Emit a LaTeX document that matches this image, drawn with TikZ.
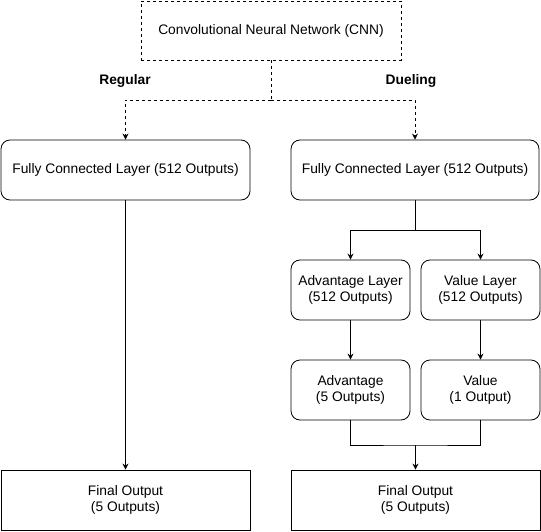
\documentclass[tikz,border=0pt]{standalone}
\usepackage{fontspec}
\setmainfont{Liberation Sans}
\usetikzlibrary{arrows.meta}
\tikzset{
  box/.style={draw, line width=0.8pt, inner sep=0pt, align=center, font=\fontsize{13.8}{16.5}\selectfont},
  rbox/.style={box, rounded corners=9pt},
  lbl/.style={font=\fontsize{13.8}{16.5}\selectfont\bfseries},
  conn/.style={line width=0.8pt, -{Stealth[length=6pt,width=6pt]}},
  plain/.style={line width=0.8pt},
  dsh/.style={dash pattern=on 3pt off 3pt},
}
\begin{document}
\begin{tikzpicture}[x=1pt,y=-1pt]
\useasboundingbox (0,0) rectangle (541,532);
\node[box, dsh, minimum width=260pt, minimum height=59pt] (cnn) at (271,30.5) {Convolutional Neural Network (CNN)};
\node[lbl] (reg) at (125,81) {Regular};
\node[lbl] (duel) at (411,81) {Dueling};
\node[rbox, minimum width=249pt, minimum height=60pt] (fcl) at (125.5,170) {Fully Connected Layer (512 Outputs)};
\node[rbox, minimum width=248pt, minimum height=60pt] (fcr) at (415,170) {Fully Connected Layer (512 Outputs)};
\node[rbox, minimum width=119pt, minimum height=60pt] (advl) at (350.5,290) {Advantage Layer\\(512 Outputs)};
\node[rbox, minimum width=119pt, minimum height=60pt] (vall) at (480.5,290) {Value Layer\\(512 Outputs)};
\node[rbox, minimum width=119pt, minimum height=60pt] (adv) at (350.5,390) {Advantage\\(5 Outputs)};
\node[rbox, minimum width=119pt, minimum height=60pt] (val) at (480.5,390) {Value\\(1 Output)};
\node[box, minimum width=249pt, minimum height=60pt] (finl) at (125.5,500) {Final Output\\(5 Outputs)};
\node[box, minimum width=249pt, minimum height=60pt] (finr) at (415.5,500) {Final Output\\(5 Outputs)};
\coordinate (split) at (271,100);
\coordinate (branch) at (415,230);
\coordinate (merge) at (415.5,445);
\draw[plain, dsh] (cnn.south) -- (split);
\draw[conn, dsh] (split) -| (fcl.north);
\draw[conn, dsh] (split) -| (fcr.north);
\draw[conn] (fcl.south) -- (finl.north);
\draw[plain] (fcr.south) -- (branch);
\draw[conn] (branch) -| (advl.north);
\draw[conn] (branch) -| (vall.north);
\draw[conn] (advl.south) -- (adv.north);
\draw[conn] (vall.south) -- (val.north);
\draw[plain] (adv.south) |- (merge) -| (val.south);
\draw[conn] (merge) -- (finr.north);
\end{tikzpicture}
\end{document}
